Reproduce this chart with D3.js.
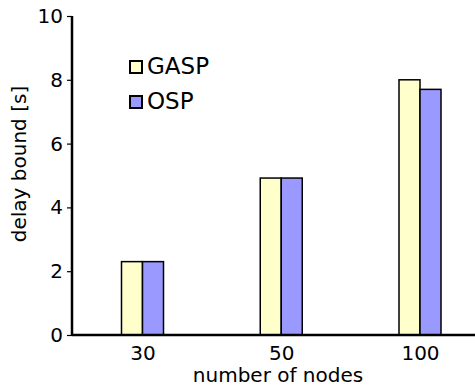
<!DOCTYPE html>
<html>
<head>
<meta charset="utf-8">
<script src="https://cdn.jsdelivr.net/npm/d3@7"></script>
<style>
  body { margin: 0; background: #fff; }
  svg text { font-family: "DejaVu Sans", sans-serif; fill: #000; }
</style>
</head>
<body>
<div id="chart"></div>
<script>
// Data
var categories = ["30", "50", "100"];
var seriesNames = ["GASP", "OSP"];
var gaspValues = [2.3, 4.92, 8.0];
var ospValues = [2.3, 4.92, 7.7];
var yTicks = [0, 2, 4, 6, 8, 10];
var colors = ["#ffffcc", "#9999ff"];

var w = 475, h = 387;
var margin = {left: 72, top: 16, bottom: 52};

var svg = d3.select("#chart")
	.append("svg")
		.attr("width", w)
		.attr("height", h);

// Scales
var x = d3.scalePoint()
	.domain(categories)
	.range([142.5, 420]);
var y = d3.scaleLinear()
	.domain([0, 10])
	.range([h - margin.bottom, margin.top]);

var barW = 21;

var rows = categories.map(function(c, i){
	return {cat: c, values: [gaspValues[i], ospValues[i]]};
});

// Bars
var groups = svg.selectAll(".grp")
	.data(rows)
	.enter()
	.append("g")
	.attr("class", "grp");

groups.selectAll("rect")
	.data(function(d){ return d.values.map(function(v, j){ return {cat: d.cat, v: v, j: j}; }); })
	.enter()
	.append("rect")
	.attr("x", function(d){ return x(d.cat) - barW + d.j * barW; })
	.attr("y", function(d){ return y(d.v); })
	.attr("width", barW)
	.attr("height", function(d){ return y(0) - y(d.v); })
	.attr("fill", function(d){ return colors[d.j]; })
	.attr("stroke", "#000")
	.attr("stroke-width", 1.5);

// Axes
var yAxis = d3.axisLeft(y)
	.tickValues(yTicks)
	.tickSize(5)
	.tickPadding(4);

var gY = svg.append("g")
	.attr("transform", "translate(" + margin.left + ",0)")
	.call(yAxis);
gY.select(".domain").attr("stroke-width", 2.5).attr("d", "M0," + y(10) + "V" + y(0));
gY.selectAll(".tick line").attr("stroke-width", 1.2);
gY.selectAll("text").style("font-size", "20px");

var xAxis = d3.axisBottom(x)
	.tickSize(0)
	.tickPadding(11);

var gX = svg.append("g")
	.attr("transform", "translate(0," + y(0) + ")")
	.call(xAxis);
gX.select(".domain").attr("stroke-width", 2.5).attr("d", "M" + margin.left + ",0H" + w);
gX.selectAll("text").style("font-size", "20px");

// Axis titles
svg.append("text")
	.attr("x", 278)
	.attr("y", 382)
	.attr("text-anchor", "middle")
	.style("font-size", "20px")
	.text("number of nodes");

svg.append("text")
	.attr("transform", "translate(26,164) rotate(-90)")
	.attr("text-anchor", "middle")
	.style("font-size", "20px")
	.text("delay bound [s]");

// Legend
var legend = svg.selectAll(".legend")
	.data(seriesNames)
	.enter()
	.append("g")
	.attr("class", "legend")
	.attr("transform", function(d, i){ return "translate(130," + (61 + i * 35) + ")"; });

legend.append("rect")
	.attr("width", 12)
	.attr("height", 12)
	.attr("fill", function(d, i){ return colors[i]; })
	.attr("stroke", "#000")
	.attr("stroke-width", 2);

legend.append("text")
	.attr("x", 17)
	.attr("y", 13)
	.style("font-size", "23px")
	.text(function(d){ return d; });
</script>
</body>
</html>
